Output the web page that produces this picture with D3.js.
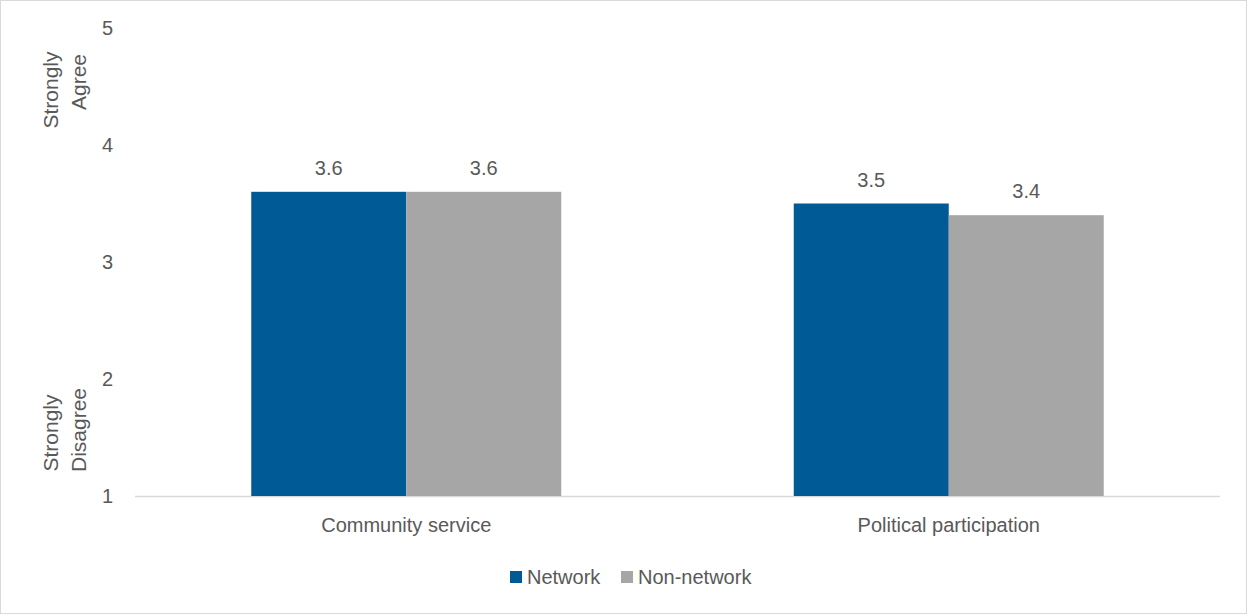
<!DOCTYPE html>
<html>
<head>
<meta charset="utf-8">
<script src="https://cdn.jsdelivr.net/npm/d3@7"></script>
<style>
html,body{margin:0;padding:0;background:#fff;}
svg{display:block;}
text{font-family:"Liberation Sans Narrow","Arial Narrow","Liberation Sans",Arial,sans-serif;fill:#595959;}
</style>
</head>
<body>
<svg id="chart" width="1247" height="614"></svg>
<script>
const categories = ["Community service", "Political participation"];
const seriesNames = ["Network", "Non-network"];
const networkValues = [3.6, 3.5];
const nonNetworkValues = [3.6, 3.4];
const yTicks = [1, 2, 3, 4, 5];
const colors = ["#005A96", "#A6A6A6"];

(function(){
const svg = d3.select("#chart");
const W = 1247, H = 614;
svg.append("rect").attr("x",0.5).attr("y",0.5).attr("width",W-1).attr("height",H-1)
  .attr("fill","#fff").attr("stroke","#d9d9d9").attr("stroke-width",1);

const mLeft = 135, mRight = 1220, mTop = 28, mBottom = 496;
const x = d3.scaleBand().domain(categories).range([mLeft, mRight]).paddingInner(0).paddingOuter(0);
const y = d3.scaleLinear().domain([1,5]).range([mBottom, mTop]);
const inner = d3.scaleBand().domain(seriesNames).range([0, x.bandwidth()]).paddingInner(0).paddingOuter(0.75);

svg.append("line").attr("x1",mLeft).attr("x2",mRight).attr("y1",y(1)+0.5).attr("y2",y(1)+0.5)
  .attr("stroke","#d9d9d9").attr("stroke-width",1.5);

const yAxis = d3.axisLeft(y).tickValues(yTicks).tickSize(0).tickPadding(0).tickFormat(d3.format("d"));
const ga = svg.append("g").attr("transform",`translate(${mLeft-22},0)`).call(yAxis);
ga.select(".domain").remove();
ga.selectAll("text").style("font-size","20px").attr("fill","#595959")
  .style("font-family",'"Liberation Sans Narrow","Arial Narrow",sans-serif');

function vtitle(txt, cx, cy){
  svg.append("text").attr("transform",`translate(${cx},${cy}) rotate(-90)`)
    .attr("text-anchor","middle").style("font-size","21px").text(txt);
}
vtitle("Strongly", 58, 90);
vtitle("Agree", 86, 82);
vtitle("Strongly", 58, 433);
vtitle("Disagree", 86, 430);

const data = categories.map((c,i)=>({cat:c, vals:[networkValues[i], nonNetworkValues[i]]}));
const groups = svg.selectAll("g.cat").data(data).join("g").attr("class","cat")
  .attr("transform",d=>`translate(${x(d.cat)},0)`);
groups.selectAll("rect").data(d=>d.vals.map((v,j)=>({s:seriesNames[j],v,j}))).join("rect")
  .attr("x",d=>inner(d.s)).attr("width",inner.bandwidth())
  .attr("y",d=>y(d.v)).attr("height",d=>y(1)-y(d.v)).attr("fill",d=>colors[d.j]);
groups.selectAll("text.val").data(d=>d.vals.map((v,j)=>({s:seriesNames[j],v,j}))).join("text")
  .attr("class","val").attr("x",d=>inner(d.s)+inner.bandwidth()/2).attr("y",d=>y(d.v)-17)
  .attr("text-anchor","middle").style("font-size","20px").text(d=>d3.format(".1f")(d.v));

const xAxis = d3.axisBottom(x).tickSize(0).tickPadding(0);
const gx = svg.append("g").attr("transform",`translate(0,${mBottom+22})`).call(xAxis);
gx.select(".domain").remove();
gx.selectAll("text").style("font-size","20px").attr("fill","#595959")
  .style("font-family",'"Liberation Sans Narrow","Arial Narrow",sans-serif');

const legendX = [510, 621];
seriesNames.forEach((s,i)=>{
  svg.append("rect").attr("x",legendX[i]).attr("y",571).attr("width",12).attr("height",12).attr("fill",colors[i]);
  svg.append("text").attr("x",legendX[i]+17).attr("y",584).style("font-size","20px").text(s);
});
})();
</script>
</body>
</html>
